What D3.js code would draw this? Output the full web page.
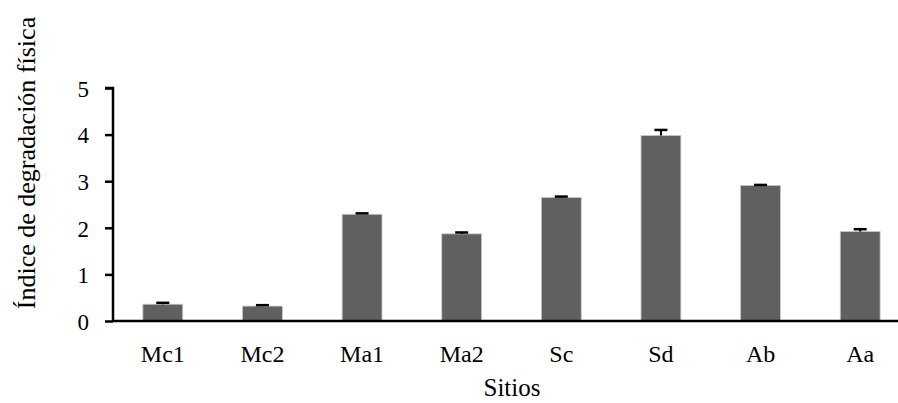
<!DOCTYPE html>
<html><head><meta charset="utf-8">
<script src="https://cdn.jsdelivr.net/npm/d3@7"></script>
<style>body{margin:0;background:#fff}svg{display:block}text{font-family:"Liberation Serif","Times New Roman",serif;fill:#000}</style>
</head><body><svg id="c" width="898" height="403"></svg>
<script>
const categories = ["Mc1","Mc2","Ma1","Ma2","Sc","Sd","Ab","Aa"];
const values = [0.36,0.32,2.29,1.87,2.65,3.98,2.91,1.92];
const errors = [0.03,0.02,0.02,0.03,0.02,0.12,0.01,0.05];
const yTicks = [0,1,2,3,4,5];

const svg = d3.select("#c");
const x = d3.scaleBand().domain(categories).range([113,910]).paddingInner(0.6).paddingOuter(0.3);
const y = d3.scaleLinear().domain([0,5]).range([321,88]);

const yAxis = svg.append("g").attr("transform","translate(113,0)")
  .call(d3.axisLeft(y).tickValues(yTicks).tickSize(8).tickPadding(16).tickFormat(d3.format("d")));
yAxis.select(".domain").attr("stroke","#000").attr("stroke-width",2.5).attr("d","M-8,88H0V321");
yAxis.selectAll(".tick line").attr("stroke","#000").attr("stroke-width",2.5);
yAxis.selectAll("text").style("font-size","23px").attr("dy","0.36em").attr("font-family","Liberation Serif");

svg.append("g").selectAll("rect").data(categories).join("rect")
  .attr("x",d=>x(d)).attr("width",x.bandwidth())
  .attr("y",(d,i)=>y(values[i])).attr("height",(d,i)=>y(0)-y(values[i]))
  .attr("fill","#606060").attr("stroke","#c8c8c8").attr("stroke-width",0.8);

const eb = svg.append("g").attr("stroke","#000");
categories.forEach((c,i)=>{
  const cx = x(c)+x.bandwidth()/2;
  eb.append("line").attr("x1",cx).attr("x2",cx).attr("y1",y(values[i])).attr("y2",y(values[i]+errors[i])).attr("stroke-width",2);
  eb.append("line").attr("x1",cx-6.5).attr("x2",cx+6.5).attr("y1",y(values[i]+errors[i])).attr("y2",y(values[i]+errors[i])).attr("stroke-width",2.5);
});

const xAxis = svg.append("g").attr("transform","translate(0,321)")
  .call(d3.axisBottom(x).tickSize(0).tickPadding(24));
xAxis.select(".domain").attr("stroke","#000").attr("stroke-width",2.5).attr("d","M113,0H898");
xAxis.selectAll("text").style("font-size","24px").attr("font-family","Liberation Serif");

svg.append("text").attr("x",512).attr("y",396).attr("text-anchor","middle").style("font-size","25px").text("Sitios");
svg.append("text").attr("transform","translate(35,163) rotate(-90)").attr("text-anchor","middle").style("font-size","26px").text("Índice de degradación física");
</script></body></html>
